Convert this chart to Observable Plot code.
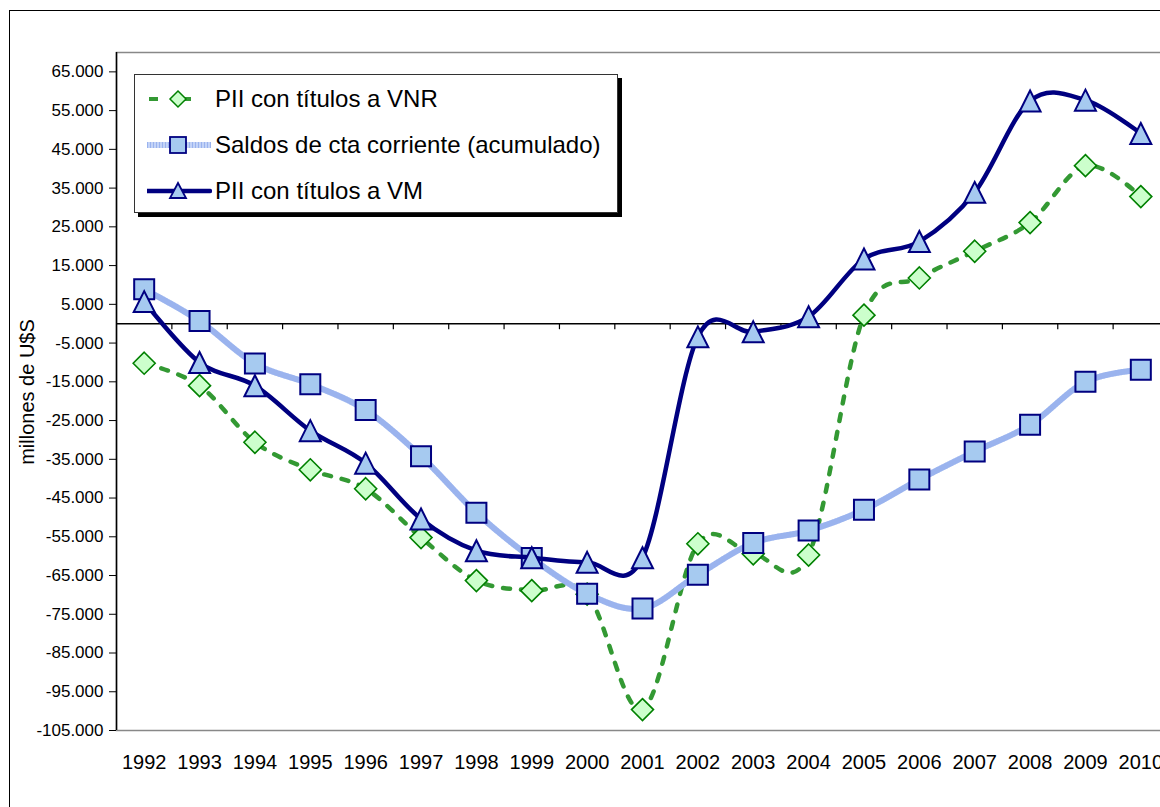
<!DOCTYPE html>
<html><head><meta charset="utf-8">
<script src="https://cdn.jsdelivr.net/npm/d3@7"></script>
<script src="https://cdn.jsdelivr.net/npm/@observablehq/plot@0.6"></script>
<style>
html,body{margin:0;padding:0;overflow:hidden;background:#fff;width:1160px;height:807px;}
#wrap{position:relative;width:1160px;height:807px;overflow:hidden;font-family:"Liberation Sans",Arial,sans-serif;color:#000;}
#outer{position:absolute;left:9px;top:10px;width:1300px;height:900px;border:1.5px solid #000;box-sizing:border-box;}
#chart{position:absolute;left:0;top:0;width:1200px;height:807px;}
#chart svg{max-width:none !important;width:1200px !important;height:807px !important;}
#ylabel{position:absolute;left:27px;top:392px;transform:translate(-50%,-50%) rotate(-90deg);font-size:20px;white-space:nowrap;}
#legend{position:absolute;left:134px;top:74px;width:484px;height:139px;border:1px solid #333;background:#fff;box-shadow:4px 4px 0 #000;box-sizing:border-box;}
.row{position:absolute;left:12px;height:30px;display:flex;align-items:center;}
.row span{font-size:24px;margin-left:3px;white-space:nowrap;}
.row svg{display:block;}
</style>
</head><body>
<div id="wrap">
  <div id="outer"></div>
  <div id="chart"></div>
  <div id="ylabel">millones de U$S</div>
  <div id="legend"></div>
</div>
<script>
// ---- data (millones de U$S) ----
const years = [1992,1993,1994,1995,1996,1997,1998,1999,2000,2001,2002,2003,2004,2005,2006,2007,2008,2009,2010];
const piiVNR = [-10200,-16000,-30600,-37700,-42600,-55200,-66300,-68900,-69800,-99600,-56800,-59400,-59700,2200,11800,18700,26100,40800,32800];
const saldosCta = [8900,700,-10300,-15600,-22300,-34200,-48800,-60500,-69700,-73500,-64800,-56600,-53400,-48000,-40200,-33000,-26100,-15000,-11900];
const piiVM = [5700,-10000,-16000,-27600,-36000,-50400,-58600,-60400,-61600,-60400,-3400,-2100,1800,16700,21200,33900,57500,57700,49100];
const yTicks = [-105000,-95000,-85000,-75000,-65000,-55000,-45000,-35000,-25000,-15000,-5000,5000,15000,25000,35000,45000,55000,65000];
const seriesNames = ["PII con títulos a VNR","Saldos de cta corriente (acumulado)","PII con títulos a VM"];

const toRows = (vals) => years.map((year, i) => ({year, value: vals[i]}));
const dVNR = toRows(piiVNR), dSaldos = toRows(saldosCta), dVM = toRows(piiVM);
const boundaries = years.slice(0, -1).map(y => y + 0.5);

const fmt = d => (d < 0 ? "-" : "") + Math.abs(d / 1000) + ".000";

const NAVY = "#000080", LBLUE = "#a6caf0", GREEN = "#339933", DGREEN = "#008000", LGREEN = "#ccffcc";

const sqSym = {draw(ctx) { const h = 10; ctx.moveTo(-h, -h); ctx.lineTo(h, -h); ctx.lineTo(h, h); ctx.lineTo(-h, h); ctx.closePath(); }};
const triSym = {draw(ctx) { const h = 10.5; ctx.moveTo(0, -h); ctx.lineTo(h, h); ctx.lineTo(-h, h); ctx.closePath(); }};
const diaSym = {draw(ctx) { const h = 11; ctx.moveTo(0, -h); ctx.lineTo(h, 0); ctx.lineTo(0, h); ctx.lineTo(-h, 0); ctx.closePath(); }};

const chart = Plot.plot({
  width: 1200, height: 807,
  marginLeft: 116, marginRight: 32, marginTop: 52, marginBottom: 77,
  style: {fontFamily: "'Liberation Sans', Arial, sans-serif", background: "transparent", color: "#000", maxWidth: "none"},
  x: {domain: [1991.5, 2010.5]},
  y: {domain: [-105000, 70000]},
  marks: [
    Plot.frame({stroke: "#888", strokeWidth: 1.5}),
    Plot.axisY({ticks: yTicks, tickFormat: fmt, tickSize: 7, tickPadding: 6, fontSize: 17, label: null, stroke: "#000"}),
    Plot.axisX({ticks: years, tickFormat: d => String(d), tickSize: 0, tickPadding: 24, fontSize: 20, label: null}),
    Plot.ruleX([1991.5], {stroke: "#000", strokeWidth: 1.5}),
    Plot.ruleY([0], {stroke: "#000", strokeWidth: 1.5}),
    Plot.ruleX(boundaries, {y1: 0, y2: 0, insetBottom: -6, stroke: "#000", strokeWidth: 1.2}),
    // Series 1: PII VNR
    Plot.line(dVNR, {x: "year", y: "value", stroke: GREEN, strokeWidth: 4.5, strokeDasharray: "7,11", curve: "cardinal", tension: 0}),
    Plot.dot(dVNR, {x: "year", y: "value", symbol: diaSym, r: 10, fill: LGREEN, stroke: DGREEN, strokeWidth: 1.6}),
    // Series 2: Saldos
    Plot.line(dSaldos, {x: "year", y: "value", stroke: "#c3d3f7", strokeWidth: 6, curve: "cardinal", tension: 0}),
    Plot.line(dSaldos, {x: "year", y: "value", stroke: "#7f9fe8", strokeWidth: 6, strokeDasharray: "1,2", strokeOpacity: 0.6, curve: "cardinal", tension: 0}),
    Plot.dot(dSaldos, {x: "year", y: "value", symbol: sqSym, r: 10, fill: LBLUE, stroke: NAVY, strokeWidth: 2}),
    // Series 3: PII VM
    Plot.line(dVM, {x: "year", y: "value", stroke: NAVY, strokeWidth: 4.5, curve: "cardinal", tension: 0}),
    Plot.dot(dVM, {x: "year", y: "value", symbol: triSym, r: 10, fill: LBLUE, stroke: NAVY, strokeWidth: 2})
  ]
});
document.getElementById("chart").appendChild(chart);

// ---- legend ----
const legendSyms = [
  `<rect x="2" y="13" width="9" height="4" fill="${GREEN}"/><rect x="36" y="13" width="8" height="4" fill="${GREEN}"/><path d="M31,7 L39,15 L31,23 L23,15 Z" fill="${LGREEN}" stroke="${DGREEN}" stroke-width="1.5"/>`,
  `<line x1="0" y1="15" x2="64" y2="15" stroke="#c3d3f7" stroke-width="6"/><line x1="0" y1="15" x2="64" y2="15" stroke="#7f9fe8" stroke-width="6" stroke-dasharray="1,2" stroke-opacity="0.6"/><rect x="23" y="7" width="16" height="16" fill="${LBLUE}" stroke="${NAVY}" stroke-width="1.8"/>`,
  `<line x1="0" y1="15" x2="63" y2="15" stroke="${NAVY}" stroke-width="4.5" stroke-linecap="round"/><path d="M31,7 L39,22 L23,22 Z" fill="${LBLUE}" stroke="${NAVY}" stroke-width="1.8"/>`
];
const legend = document.getElementById("legend");
const rowTops = [9, 55, 101];
seriesNames.forEach((name, i) => {
  const row = document.createElement("div");
  row.className = "row";
  row.style.top = rowTops[i] + "px";
  row.innerHTML = `<svg width="65" height="30">${legendSyms[i]}</svg><span>${name}</span>`;
  legend.appendChild(row);
});
</script>
</body></html>
